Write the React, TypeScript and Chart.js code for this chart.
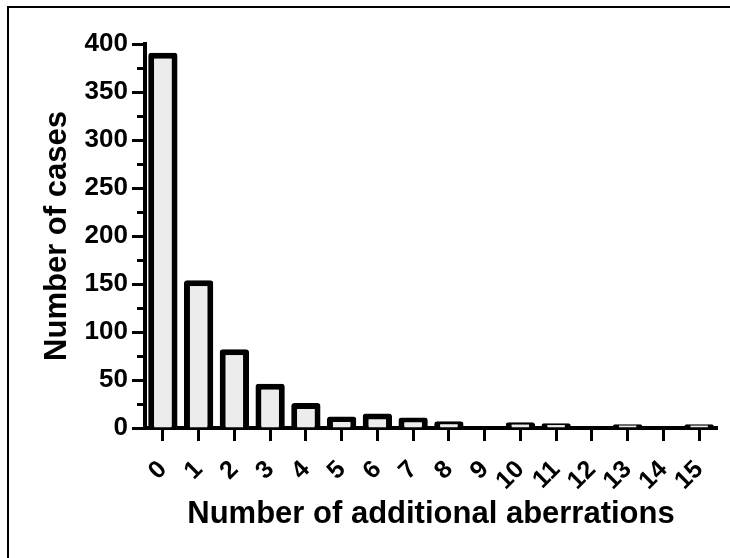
import React, { useEffect, useRef } from "react";
import { Chart, registerables } from "chart.js";

Chart.register(...registerables);

const categories = ["0","1","2","3","4","5","6","7","8","9","10","11","12","13","14","15"];
const cases = [391, 154, 82, 46, 26, 12, 15, 11, 7, 0, 6, 5, 0, 4, 0, 4];
const minorTicks = [25, 75, 125, 175, 225, 275, 325, 375];
const xTitle = "Number of additional aberrations";
const yTitle = "Number of cases";

const FONT = "'Liberation Sans', Arial, Helvetica, sans-serif";

const minorTickPlugin = {
  id: "minorTicks",
  afterDraw(chart: any) {
    const y = chart.scales.y;
    const ctx = chart.ctx;
    const left = chart.chartArea.left;
    ctx.save();
    ctx.strokeStyle = "#000";
    ctx.lineWidth = 3;
    for (const v of minorTicks) {
      const py = Math.round(y.getPixelForValue(v)) + 0.5;
      ctx.beginPath();
      ctx.moveTo(left - 8, py);
      ctx.lineTo(left, py);
      ctx.stroke();
    }
    ctx.restore();
  },
};

const framePlugin = {
  id: "frame",
  beforeDraw(chart: any) {
    const ctx = chart.ctx;
    ctx.save();
    ctx.fillStyle = "#fff";
    ctx.fillRect(0, 0, chart.width, chart.height);
    ctx.strokeStyle = "#000";
    ctx.lineWidth = 2;
    ctx.beginPath();
    ctx.moveTo(8, chart.height);
    ctx.lineTo(8, 7);
    ctx.lineTo(chart.width, 7);
    ctx.stroke();
    ctx.restore();
  },
};

export default function App() {
  const ref = useRef<HTMLCanvasElement>(null);
  useEffect(() => {
    if (!ref.current) return;
    const chart = new Chart(ref.current, {
      type: "bar",
      data: {
        labels: categories,
        datasets: [
          {
            data: cases,
            backgroundColor: "#ececec",
            borderColor: "#000",
            borderWidth: 6,
            borderRadius: 3,
            borderSkipped: "start",
            barPercentage: 0.82,
            categoryPercentage: 1,
          },
        ],
      },
      options: {
        animation: false,
        responsive: false,
        devicePixelRatio: 1,
        layout: { padding: { left: 35, top: 44, right: 13, bottom: 21 } },
        plugins: { legend: { display: false }, tooltip: { enabled: false } },
        scales: {
          x: {
            z: 1,
            offset: true,
            grid: {
              display: true,
              drawOnChartArea: false,
              drawTicks: true,
              tickLength: 13,
              tickWidth: 3,
              tickColor: "#000",
              offset: false,
            },
            border: { display: true, color: "#000", width: 4 },
            ticks: {
              autoSkip: false,
              maxRotation: 45,
              minRotation: 45,
              padding: 14,
              color: "#000",
              font: { family: FONT, size: 25, weight: "bold" },
            },
            title: {
              display: true,
              text: xTitle,
              color: "#000",
              font: { family: FONT, size: 31, weight: "bold" },
            },
            afterFit(s: any) {
              s.height = 109;
              s.paddingRight = 0;
              s.paddingLeft = 0;
            },
          },
          y: {
            min: 0,
            max: 400,
            grid: {
              display: true,
              drawOnChartArea: false,
              drawTicks: true,
              tickLength: 13,
              tickWidth: 3,
              tickColor: "#000",
            },
            border: { display: true, color: "#000", width: 4 },
            ticks: {
              stepSize: 50,
              padding: 4,
              color: "#000",
              font: { family: FONT, size: 26, weight: "bold" },
            },
            title: {
              display: true,
              text: yTitle,
              color: "#000",
              font: { family: FONT, size: 31, weight: "bold" },
            },
            afterFit(s: any) {
              s.width = 110;
            },
          },
        },
      },
      plugins: [framePlugin, minorTickPlugin],
    });
    return () => chart.destroy();
  }, []);
  return (
    <div style={{ position: "fixed", left: 0, top: 0, width: 730, height: 558, background: "#fff", overflow: "hidden" }}>
      <canvas ref={ref} width={730} height={558} style={{ width: 730, height: 558, display: "block" }} />
    </div>
  );
}
